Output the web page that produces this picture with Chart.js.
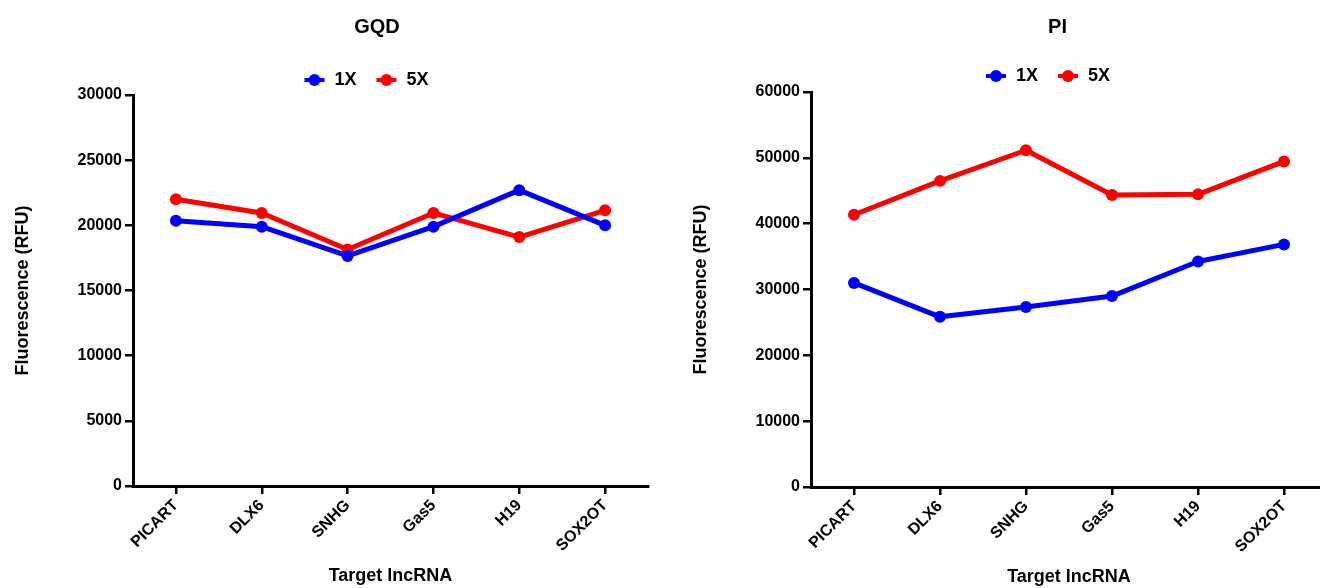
<!DOCTYPE html>
<html>
<head>
<meta charset="utf-8">
<title>GQD / PI</title>
<script src="https://cdn.jsdelivr.net/npm/chart.js@4.4.1/dist/chart.umd.min.js"></script>
<style>
  html, body { margin: 0; padding: 0; background: #fff; overflow: hidden; }
  body { width: 1320px; height: 588px; position: relative; }
  .panel { position: absolute; top: 0; }
  #gqdBox { left: 0; }
  #piBox { left: 660px; }
</style>
</head>
<body>
<div class="panel" id="gqdBox"><canvas id="gqdChart" width="654" height="588"></canvas></div>
<div class="panel" id="piBox"><canvas id="piChart" width="673" height="588"></canvas></div>
<script>
// fonte e cor globais (estilo GraphPad: Arial negrito, preto)
Chart.defaults.font.family = "'Liberation Sans', Arial, Helvetica, sans-serif";
Chart.defaults.font.weight = 'bold';
Chart.defaults.color = '#000';

// --- DADOS ---
const targets = ['PICART', 'DLX6', 'SNHG', 'Gas5', 'H19', 'SOX2OT'];
const seriesNames = ['1X', '5X'];
const seriesColors = ['#0000ff', '#ff0000'];

const gqd1X = [20350, 19900, 17650, 19900, 22700, 20000];
const gqd5X = [22000, 20950, 18150, 20950, 19100, 21150];
const pi1X = [31000, 25850, 27350, 29000, 34250, 36850];
const pi5X = [41350, 46500, 51150, 44350, 44450, 49450];

const gqdTicks = [0, 5000, 10000, 15000, 20000, 25000, 30000];
const piTicks = [0, 10000, 20000, 30000, 40000, 50000, 60000];

// marcador da legenda: traço curto com ponto
function legendMarker(color) {
    const c = document.createElement('canvas');
    c.width = 22; c.height = 14;
    const g = c.getContext('2d');
    g.strokeStyle = color;
    g.lineWidth = 4;
    g.beginPath(); g.moveTo(1, 7); g.lineTo(21, 7); g.stroke();
    g.fillStyle = color;
    g.beginPath(); g.arc(11, 7, 6, 0, Math.PI * 2); g.fill();
    return c;
}

function shiftDraw(box, ctx, dx) {
    const draw = box.draw;
    box.draw = function (...args) {
        ctx.save();
        ctx.translate(dx, 0);
        draw.apply(this, args);
        ctx.restore();
    };
}

// ajusta altura da legenda e desloca título/legenda na horizontal
const boxTweak = {
    id: 'boxTweak',
    beforeUpdate(chart, args, opts) {
        if (chart._boxTweaked) return;
        chart._boxTweaked = true;
        const lg = chart.legend;
        const fit = lg.fit;
        lg.fit = function () { fit.call(this); this.height = opts.legendHeight; };
        shiftDraw(lg, chart.ctx, opts.legendDx);
        shiftDraw(chart.titleBlock, chart.ctx, opts.titleDx);
    }
};

function makeChart(id, title, values1, values5, yTicks, cfg) {
    const axisGrid = { drawOnChartArea: false, color: '#000', lineWidth: 2.5, tickLength: 8 };
    const axisBorder = { color: '#000', width: 3 };

    return new Chart(document.getElementById(id), {
        type: 'line',
        data: {
            labels: targets,
            datasets: [values1, values5].map((d, i) => ({
                label: seriesNames[i],
                data: d,
                borderColor: seriesColors[i],
                backgroundColor: seriesColors[i],
                borderWidth: 5,
                borderJoinStyle: 'round',
                pointRadius: 6,
                pointHoverRadius: 6,
                pointBorderWidth: 0,
                tension: 0
            }))
        },
        options: {
            responsive: false,
            animation: false,
            devicePixelRatio: 1,
            layout: { padding: 0 },
            plugins: {
                title: {
                    display: true,
                    text: title,
                    color: '#000',
                    font: { size: 20, weight: 'bold' },
                    padding: { top: 15, bottom: cfg.titleGap }
                },
                legend: {
                    labels: {
                        usePointStyle: true,
                        pointStyleWidth: 22,
                        boxHeight: 14,
                        padding: 19,
                        color: '#000',
                        font: { size: 18, weight: 'bold' },
                        generateLabels: (chart) =>
                            Chart.defaults.plugins.legend.labels.generateLabels(chart).map(item => ({
                                ...item,
                                pointStyle: legendMarker(seriesColors[item.datasetIndex])
                            }))
                    }
                },
                tooltip: { enabled: false },
                boxTweak: { legendHeight: cfg.legendHeight, legendDx: cfg.legendDx, titleDx: cfg.titleDx }
            },
            scales: {
                x: {
                    offset: true,
                    grid: axisGrid,
                    border: axisBorder,
                    ticks: { maxRotation: 45, minRotation: 45, padding: 2, font: { size: 16 } },
                    title: {
                        display: true,
                        text: 'Target lncRNA',
                        font: { size: 18, weight: 'bold' },
                        padding: { top: 0, bottom: cfg.xTitlePad }
                    },
                    afterFit: (s) => { s.height = cfg.xHeight; }
                },
                y: {
                    min: yTicks[0],
                    max: yTicks[yTicks.length - 1],
                    grid: axisGrid,
                    border: axisBorder,
                    ticks: { padding: 3, font: { size: 16 }, callback: (v) => String(v) },
                    afterBuildTicks: (s) => { s.ticks = yTicks.map(v => ({ value: v })); },
                    title: {
                        display: true,
                        text: 'Fluorescence (RFU)',
                        font: { size: 18, weight: 'bold' },
                        padding: { top: cfg.yTitlePad, bottom: 0 }
                    },
                    afterFit: (s) => { s.width = cfg.yWidth; }
                }
            }
        },
        plugins: [boxTweak]
    });
}

const gqdChart = makeChart('gqdChart', 'GQD', gqd1X, gqd5X, gqdTicks, {
    titleGap: 13, legendHeight: 43, titleDx: 50, legendDx: 39,
    xHeight: 102, xTitlePad: 1, yWidth: 133, yTitlePad: 12
});

const piChart = makeChart('piChart', 'PI', pi1X, pi5X, piTicks, {
    titleGap: 9, legendHeight: 44, titleDx: 61, legendDx: 51,
    xHeight: 101, xTitlePad: 0, yWidth: 151, yTitlePad: 30
});
</script>
</body>
</html>
